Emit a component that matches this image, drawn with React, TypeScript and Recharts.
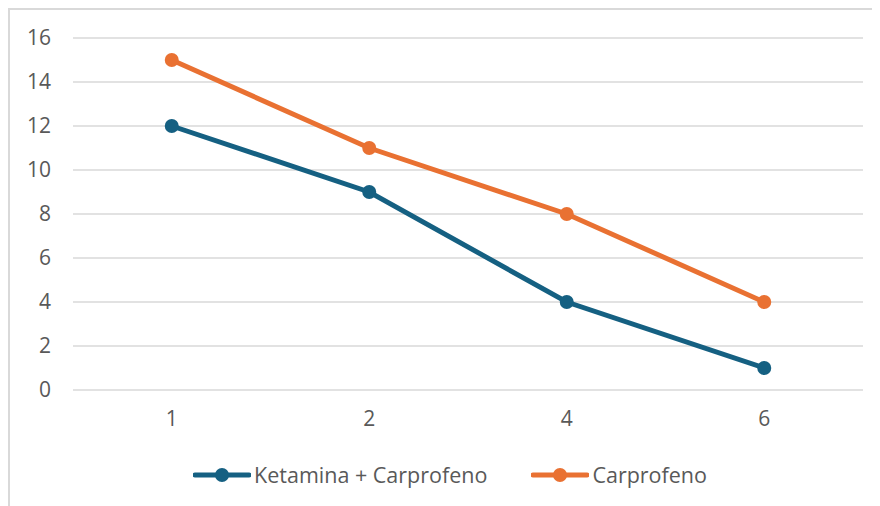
import { CartesianGrid, Line, LineChart, XAxis, YAxis } from 'recharts'

const categories = ['1', '2', '4', '6']
const ketaminaCarprofeno = [12, 9, 4, 1]
const carprofeno = [15, 11, 8, 4]
const yTicks = [0, 2, 4, 6, 8, 10, 12, 14, 16]

const BLUE = '#156082'
const ORANGE = '#e97132'
const FONT = '"Open Sans", "Noto Sans", sans-serif'

const data = categories.map((cat, i) => ({
  cat,
  ketamina: ketaminaCarprofeno[i],
  carprofeno: carprofeno[i],
}))

const legendItems = [
  { name: 'Ketamina + Carprofeno', color: BLUE },
  { name: 'Carprofeno', color: ORANGE },
]

function ChartLegend() {
  return (
    <div
      style={{
        position: 'absolute',
        top: 450,
        left: 0,
        width: 880,
        display: 'flex',
        justifyContent: 'center',
        gap: 44,
        fontFamily: FONT,
        fontSize: 21.5,
        color: '#595959',
      }}
    >
      {legendItems.map((item) => (
        <div key={item.name} style={{ display: 'flex', alignItems: 'center' }}>
          <svg width={58} height={16} style={{ marginRight: 3 }}>
            <line x1={2} y1={8} x2={56} y2={8} stroke={item.color} strokeWidth={5} strokeLinecap="round" />
            <circle cx={29} cy={8} r={7} fill={item.color} />
          </svg>
          <span>{item.name}</span>
        </div>
      ))}
    </div>
  )
}

export default function App() {
  return (
    <div
      style={{
        position: 'relative',
        width: 880,
        height: 506,
        border: '2px solid #d9d9d9',
        boxSizing: 'border-box',
        background: '#fff',
      }}
    >
      <LineChart width={880} height={504} data={data} margin={{ top: 28, right: 27, bottom: 94, left: 0 }}>
        <CartesianGrid vertical={false} stroke="#d9d9d9" strokeWidth={1.5} />
        <XAxis
          dataKey="cat"
          scale="point"
          padding={{ left: 98.75, right: 98.75 }}
          axisLine={false}
          tickLine={false}
          tickSize={0}
          tickMargin={21}
          height={30}
          tick={{ fill: '#595959', fontSize: 21, fontFamily: FONT }}
        />
        <YAxis
          domain={[0, 16]}
          ticks={yTicks}
          interval={0}
          axisLine={false}
          tickLine={false}
          tickSize={0}
          tickMargin={22}
          width={63}
          tick={{ fill: '#595959', fontSize: 21, fontFamily: FONT }}
        />
        <Line
          dataKey="ketamina"
          name="Ketamina + Carprofeno"
          stroke={BLUE}
          strokeWidth={5}
          dot={{ r: 7, fill: BLUE, stroke: BLUE, strokeWidth: 0 }}
          activeDot={false}
          isAnimationActive={false}
        />
        <Line
          dataKey="carprofeno"
          name="Carprofeno"
          stroke={ORANGE}
          strokeWidth={5}
          dot={{ r: 7, fill: ORANGE, stroke: ORANGE, strokeWidth: 0 }}
          activeDot={false}
          isAnimationActive={false}
        />
      </LineChart>
      <ChartLegend />
    </div>
  )
}
